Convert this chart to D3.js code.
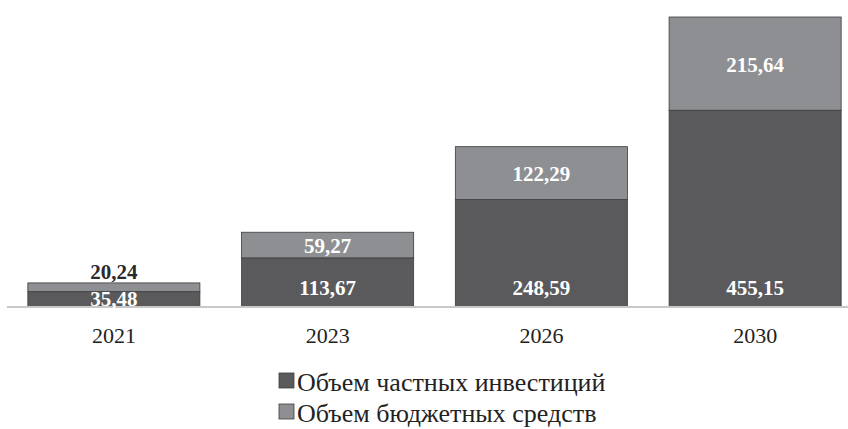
<!DOCTYPE html>
<html>
<head>
<meta charset="utf-8">
<script src="https://cdn.jsdelivr.net/npm/d3@7"></script>
<style>
  body { margin: 0; background: #fff; }
  text { font-family: "Liberation Serif", "Times New Roman", serif; }
</style>
</head>
<body>
<svg id="chart" width="848" height="429"></svg>
<script>
// данные
const years    = ["2021", "2023", "2026", "2030"];
const privInv  = [35.48, 113.67, 248.59, 455.15];
const budget   = [20.24, 59.27, 122.29, 215.64];
const seriesNames = ["Объем частных инвестиций", "Объем бюджетных средств"];
const colors   = ["#5a5a5c", "#8e8f92"];

const svg = d3.select("#chart");
const baseY = 307, topY = 17;

const rows = years.map((y, i) => ({ year: y, priv: privInv[i], budget: budget[i] }));
const stack = d3.stack().keys(["priv", "budget"])(rows);

const x = d3.scaleBand().domain(years).range([7, 862])
  .paddingInner(0.195).paddingOuter(0.0975);
const maxTotal = d3.max(rows, d => d.priv + d.budget);
const y = d3.scaleLinear().domain([0, maxTotal]).range([baseY, topY]);

const fmt = v => v.toFixed(2).replace(".", ",");

// столбцы
stack.forEach((s, si) => {
  svg.append("g").selectAll("rect")
    .data(s)
    .join("rect")
    .attr("x", d => x(d.data.year))
    .attr("y", d => y(d[1]))
    .attr("width", x.bandwidth())
    .attr("height", d => y(d[0]) - y(d[1]))
    .attr("fill", colors[si])
    .attr("stroke", "#3c3c3e")
    .attr("stroke-width", 0.8);
});

// ось X
svg.append("line")
  .attr("x1", 7).attr("x2", 848)
  .attr("y1", baseY).attr("y2", baseY)
  .attr("stroke", "#c8c8c8").attr("stroke-width", 2);

svg.append("g").selectAll("text")
  .data(years)
  .join("text")
  .attr("x", d => x(d) + x.bandwidth() / 2)
  .attr("y", 343)
  .attr("text-anchor", "middle")
  .attr("font-size", 22)
  .attr("fill", "#222")
  .text(d => d);

// подписи значений
const labels = svg.append("g")
  .attr("font-size", 21).attr("font-weight", "bold")
  .attr("text-anchor", "middle");

// частные — у основания
labels.selectAll("text.priv")
  .data(stack[0])
  .join("text")
  .attr("class", "priv")
  .attr("x", d => x(d.data.year) + x.bandwidth() / 2)
  .attr("y", d => {
    const h = y(d[0]) - y(d[1]);
    return h > 40 ? baseY - 12 : (y(d[0]) + y(d[1])) / 2 + 7;
  })
  .attr("fill", "#fff")
  .text(d => fmt(d[1] - d[0]));

// бюджетные — по центру, малый сверху
labels.selectAll("text.budget")
  .data(stack[1])
  .join("text")
  .attr("class", "budget")
  .attr("x", d => x(d.data.year) + x.bandwidth() / 2)
  .attr("y", d => {
    const h = y(d[0]) - y(d[1]);
    return h > 20 ? (y(d[0]) + y(d[1])) / 2 + 8 : y(d[1]) - 4;
  })
  .attr("fill", d => (y(d[0]) - y(d[1]) > 20 ? "#fff" : "#2a2a2a"))
  .text(d => fmt(d[1] - d[0]));

// легенда
const legend = svg.append("g").attr("transform", "translate(279,373)");
seriesNames.forEach((name, i) => {
  const g = legend.append("g").attr("transform", `translate(0,${i * 31})`);
  g.append("rect")
    .attr("width", 15).attr("height", 15)
    .attr("fill", colors[i]).attr("stroke", "#3c3c3e").attr("stroke-width", 0.8);
  g.append("text")
    .attr("x", 18).attr("y", 18)
    .attr("font-size", 26).attr("fill", "#222")
    .text(name);
});
</script>
</body>
</html>
